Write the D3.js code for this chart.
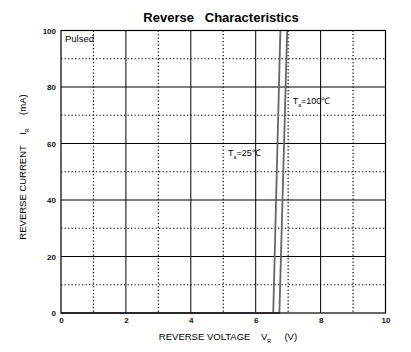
<!DOCTYPE html>
<html>
<head>
<meta charset="utf-8">
<script src="https://cdn.jsdelivr.net/npm/d3@7"></script>
<style>
  html, body { margin: 0; padding: 0; background: #fff; overflow: hidden; }
  svg { display: block; }
  text { font-family: "Liberation Sans", Arial, sans-serif; }
</style>
</head>
<body>
<svg id="chart" width="411" height="352"></svg>
<script>
// Reverse Characteristics – Sperrkennlinie
const width = 411, height = 352;
const margin = { top: 30.5, right: 25.5, bottom: 39, left: 61 };
const innerWidth  = width  - margin.left - margin.right;
const innerHeight = height - margin.top  - margin.bottom;

// Daten
const xTicks = [0, 2, 4, 6, 8, 10];
const yTicks = [0, 20, 40, 60, 80, 100];
const xMinor = [1, 3, 5, 7, 9];
const yMinor = [10, 30, 50, 70, 90];

const curve25  = [[0, 0], [6.54, 0], [6.76, 100]];
const curve100 = [[0, 0], [6.73, 0], [6.97, 100]];

const svg = d3.select("#chart")
  .attr("viewBox", `0 0 ${width} ${height}`);

const g = svg.append("g")
  .attr("transform", `translate(${margin.left},${margin.top})`);

const x = d3.scaleLinear().domain([0, 10]).range([0, innerWidth]);
const y = d3.scaleLinear().domain([0, 100]).range([innerHeight, 0]);

// gepunktetes Hilfsgitter
g.selectAll(".vminor").data(xMinor).join("line")
  .attr("x1", d => x(d)).attr("x2", d => x(d))
  .attr("y1", 0).attr("y2", innerHeight)
  .attr("stroke", "#000").attr("stroke-width", 1.2)
  .attr("stroke-dasharray", "1.3,2.2");
g.selectAll(".hminor").data(yMinor).join("line")
  .attr("x1", 0).attr("x2", innerWidth)
  .attr("y1", d => y(d)).attr("y2", d => y(d))
  .attr("stroke", "#000").attr("stroke-width", 1.2)
  .attr("stroke-dasharray", "1.3,2.2");

// durchgezogenes Hauptgitter
g.selectAll(".vmajor").data(xTicks.slice(1, -1)).join("line")
  .attr("x1", d => x(d)).attr("x2", d => x(d))
  .attr("y1", 0).attr("y2", innerHeight)
  .attr("stroke", "#000").attr("stroke-width", 1);
g.selectAll(".hmajor").data(yTicks.slice(1, -1)).join("line")
  .attr("x1", 0).attr("x2", innerWidth)
  .attr("y1", d => y(d)).attr("y2", d => y(d))
  .attr("stroke", "#000").attr("stroke-width", 1);

// Achsen (nur Beschriftung)
const xAxis = g.append("g")
  .attr("transform", `translate(0,${innerHeight})`)
  .call(d3.axisBottom(x).tickValues(xTicks).tickSize(0).tickPadding(4));
const yAxis = g.append("g")
  .call(d3.axisLeft(y).tickValues(yTicks).tickSize(0).tickPadding(5));
[xAxis, yAxis].forEach(a => {
  a.select(".domain").remove();
  a.selectAll("text")
    .style("font-family", "'Liberation Sans', Arial, sans-serif")
    .style("font-size", "8px")
    .style("font-weight", "bold")
    .attr("fill", "#111");
});

// Kennlinien
const line = d3.line().x(d => x(d[0])).y(d => y(d[1]));
[curve25, curve100].forEach(c => {
  g.append("path")
    .datum(c)
    .attr("d", line)
    .attr("fill", "none")
    .attr("stroke", "#666")
    .attr("stroke-width", 1.8);
});

// Rahmen
g.append("rect")
  .attr("width", innerWidth).attr("height", innerHeight)
  .attr("fill", "none").attr("stroke", "#000").attr("stroke-width", 1.2);

// Beschriftungen
svg.append("text")
  .attr("x", 221).attr("y", 22)
  .attr("text-anchor", "middle")
  .style("font-size", "13px").style("font-weight", "bold")
  .attr("xml:space", "preserve")
  .text("Reverse   Characteristics");

g.append("text")
  .attr("x", 4).attr("y", 11)
  .style("font-size", "9.5px")
  .text("Pulsed");

function tempLabel(vx, vy, txt) {
  const t = g.append("text")
    .attr("x", x(vx)).attr("y", y(vy))
    .style("font-size", "9px");
  t.append("tspan").text("T");
  t.append("tspan").attr("dy", 3).style("font-size", "5px").text("a");
  t.append("tspan").attr("dy", -3).text(txt);
}
tempLabel(5.15, 55.5, "=25\u2103");
tempLabel(7.14, 74, "=100\u2103");

// Achsentitel
const xt = svg.append("text")
  .attr("x", 228).attr("y", 340)
  .attr("text-anchor", "middle")
  .attr("xml:space", "preserve")
  .style("font-size", "9.5px");
xt.append("tspan").text("REVERSE VOLTAGE    V");
xt.append("tspan").attr("dy", 3).style("font-size", "5.5px").text("R");
xt.append("tspan").attr("dy", -3).text("     (V)");

const yt = svg.append("text")
  .attr("transform", "translate(26,167) rotate(-90)")
  .attr("text-anchor", "middle")
  .attr("xml:space", "preserve")
  .style("font-size", "9.5px");
yt.append("tspan").text("REVERSE CURRENT    I");
yt.append("tspan").attr("dy", 3).style("font-size", "5.5px").text("R");
yt.append("tspan").attr("dy", -3).text("     (mA)");
</script>
</body>
</html>
